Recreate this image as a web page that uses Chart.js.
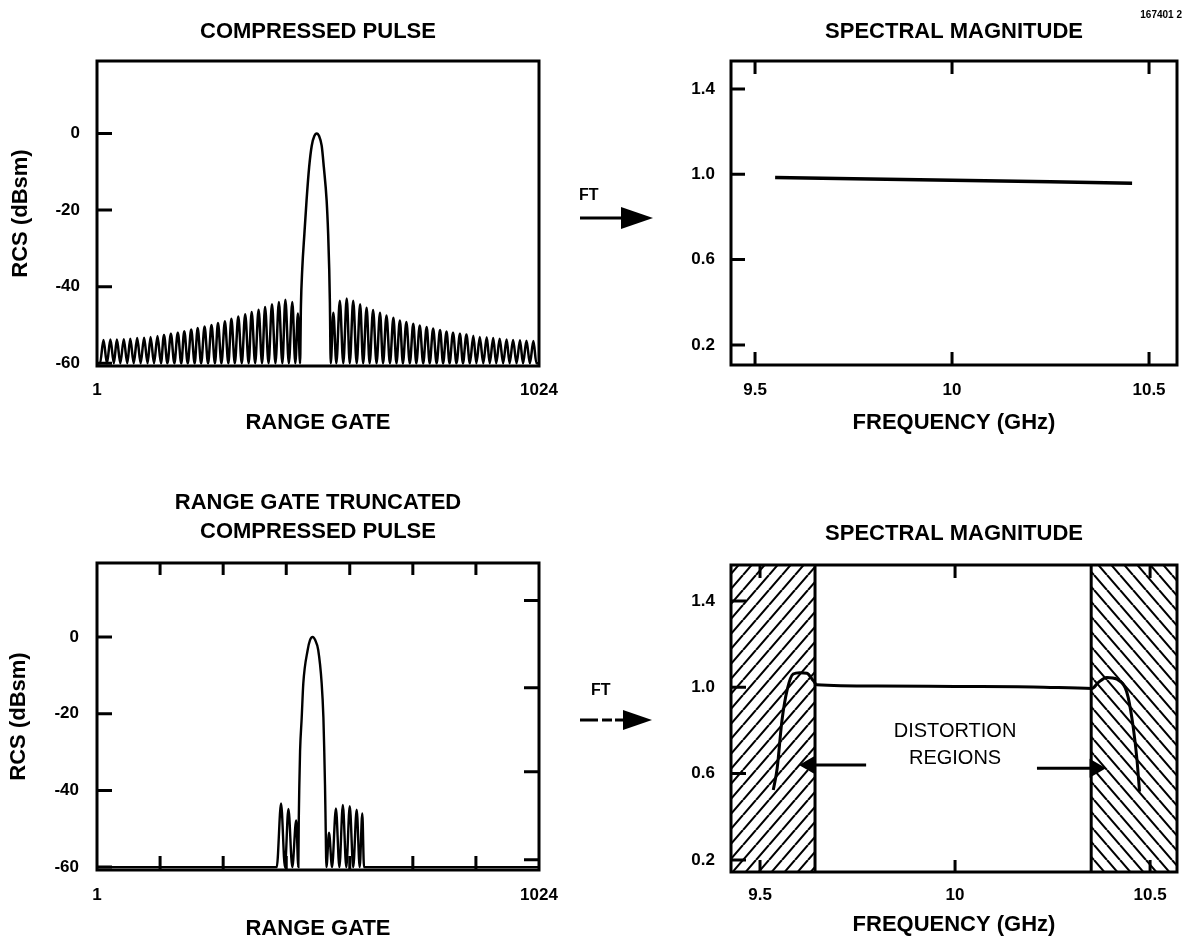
<!DOCTYPE html>
<html>
<head>
<meta charset="utf-8">
<script src="https://cdn.jsdelivr.net/npm/chart.js@4.4.1/dist/chart.umd.min.js"></script>
<style>
html,body{margin:0;padding:0;background:#fff;}
#page{position:relative;width:1185px;height:952px;overflow:hidden;background:#fff;font-family:"Liberation Sans",Arial,Helvetica,sans-serif;}
canvas{position:absolute;}
.lbl{position:absolute;font-weight:bold;color:#000;white-space:nowrap;line-height:1;}
svg{position:absolute;left:0;top:0;}
</style>
</head>
<body>
<div id="page">
<canvas id="tl" width="560" height="440" style="left:0px;top:0px"></canvas>
<canvas id="bl" width="560" height="512" style="left:0px;top:440px"></canvas>
<canvas id="tr" width="585" height="440" style="left:600px;top:0px"></canvas>
<canvas id="br" width="585" height="512" style="left:600px;top:440px"></canvas>
<svg width="1185" height="952">
  <line x1="580" y1="218" x2="628" y2="218" stroke="#000" stroke-width="3"/>
  <polygon points="621,207 653,218 621,229" fill="#000"/>
  <line x1="580" y1="720" x2="598" y2="720" stroke="#000" stroke-width="3"/>
  <line x1="602" y1="720" x2="612" y2="720" stroke="#000" stroke-width="3"/>
  <line x1="615" y1="720" x2="628" y2="720" stroke="#000" stroke-width="3"/>
  <polygon points="623,710 652,720 623,730" fill="#000"/>
</svg>
<div class="lbl" style="left:579px;top:187px;font-size:16px">FT</div>
<div class="lbl" style="left:591px;top:682px;font-size:16px">FT</div>
<div class="lbl" style="right:3px;top:10px;font-size:10px">167401 2</div>
</div>
<script>
// ===================== DATA =====================
// range-gate axis
const gateTicks = [1, 1024];
const gateTickLabels = ['1', '1024'];
const rcsTicks = [0, -20, -40, -60];
const rcsTickLabels = ['0', '-20', '-40', '-60'];
const floorRCS = -60;

// frequency axis
const freqTicks = [9.5, 10, 10.5];
const freqTickLabels = ['9.5', '10', '10.5'];
const magTicks = [1.4, 1.0, 0.6, 0.2];
const magTickLabels = ['1.4', '1.0', '0.6', '0.2'];

// extra frame ticks of the truncated panel
const truncFrameTicksX = [147, 293, 439, 586, 732, 878];
const truncFrameTicksRight = [9.5, -13.2, -35.1, -58.1];

// --- compressed pulse (top left) ---
const leftNullGates = [8, 24, 40, 55, 71, 86, 102, 118, 133, 149, 164, 180, 196, 211, 227, 242, 258, 274, 289, 305, 320, 336, 352, 367, 383, 398, 414, 430, 445, 460];
const leftPeakGates = [16, 32, 47, 63, 78, 94, 110, 125, 141, 156, 172, 188, 203, 219, 234, 250, 266, 281, 297, 312, 328, 344, 359, 375, 390, 406, 422, 437, 453, 466];
const leftPeakRCS = [-53.9, -53.8, -53.8, -53.7, -53.6, -53.4, -53.3, -53.1, -52.9, -52.6, -52.3, -52.0, -51.6, -51.2, -50.8, -50.4, -50.0, -49.5, -49.0, -48.4, -47.8, -47.2, -46.6, -46.0, -45.3, -44.6, -44.0, -43.4, -44.0, -47.0];
const mainGates = [471, 473, 476, 481, 486, 492, 498, 504, 509.5, 515, 521, 526, 532.5, 536, 538.5, 540, 542];
const mainRCS = [-60, -45, -35.5, -26.2, -17.5, -8.8, -3.2, -0.7, 0, -0.7, -3.2, -8.8, -17.5, -26.2, -35.5, -44, -60];
const rightPeakGates = [548, 563, 579, 594, 610, 625, 640, 656, 671, 687, 702, 717, 733, 748, 764, 779, 795, 810, 825, 841, 856, 872, 887, 903, 918, 933, 949, 964, 980, 995, 1011];
const rightPeakRCS = [-46.8, -43.7, -43.1, -43.7, -44.6, -45.5, -46.1, -46.8, -47.5, -48.1, -48.8, -49.2, -49.7, -50.1, -50.5, -50.9, -51.3, -51.7, -52.0, -52.3, -52.5, -52.8, -53.1, -53.2, -53.4, -53.6, -53.8, -53.9, -54.0, -54.1, -54.2];
const rightNullGates = [555, 571, 586, 602, 617, 632, 648, 663, 679, 694, 709, 725, 740, 756, 771, 787, 802, 817, 833, 848, 864, 879, 895, 910, 925, 941, 956, 972, 987, 1003, 1018];

// --- range gate truncated pulse (bottom left) ---
const truncLeftNullGates = [417, 436, 453];
const truncLeftPeakGates = [427, 444, 462];
const truncLeftPeakRCS = [-43.4, -44.8, -47.8];
const truncMainGates = [467, 468, 469.3, 471, 474.8, 478.5, 488.6, 494, 500, 506, 513, 521, 525, 527, 528.7, 530, 532];
const truncMainRCS = [-60, -47.5, -38.6, -29.8, -21, -12.1, -3.4, -0.8, 0, -0.8, -3.4, -12.1, -21, -29.8, -38.6, -47.5, -60];
const truncRightPeakGates = [538, 554, 570, 586, 602, 615];
const truncRightPeakRCS = [-51, -44.7, -43.8, -44.1, -45.0, -46.0];
const truncRightNullGates = [545, 562, 578, 594, 609, 619];

// --- spectral magnitude, full pulse (top right) ---
const specFreq = [9.551, 9.75, 10.0, 10.25, 10.457];
const specMag = [0.985, 0.979, 0.972, 0.965, 0.958];

// --- spectral magnitude, truncated pulse (bottom right) ---
const distFreq = [9.534, 9.544, 9.556, 9.570, 9.585, 9.602, 9.620, 9.637, 9.645, 9.8, 10.0, 10.2, 10.351, 10.367, 10.389, 10.415, 10.436, 10.444, 10.457, 10.466, 10.473];
const distMag = [0.524, 0.625, 0.843, 0.992, 1.062, 1.068, 1.065, 1.030, 1.012, 1.006, 1.004, 1.002, 0.995, 1.022, 1.046, 1.038, 0.999, 0.952, 0.812, 0.672, 0.516];
const hatchLeftFreq = [9.4256, 9.641];
const hatchRightFreq = [10.349, 10.569];
const arrowTailFreq = [9.772, 10.21];
const arrowTipFreq = [9.628, 10.359];
const arrowMag = [0.64, 0.625];
const noteLines = ['DISTORTION', 'REGIONS'];
const noteFreq = [10.0, 10.0];
const noteMag = [0.794, 0.672];

// ===================== BUILD SERIES =====================
const pulsePoints = [{x: gateTicks[0], y: floorRCS}];
leftPeakGates.forEach((g, i) => {
  pulsePoints.push({x: leftNullGates[i], y: floorRCS});
  pulsePoints.push({x: g, y: leftPeakRCS[i]});
});
mainGates.forEach((g, i) => pulsePoints.push({x: g, y: mainRCS[i]}));
rightPeakGates.forEach((g, i) => {
  pulsePoints.push({x: g, y: rightPeakRCS[i]});
  pulsePoints.push({x: rightNullGates[i], y: floorRCS});
});
pulsePoints.push({x: gateTicks[1], y: floorRCS});

const truncPoints = [{x: gateTicks[0], y: floorRCS}];
truncLeftPeakGates.forEach((g, i) => {
  truncPoints.push({x: truncLeftNullGates[i], y: floorRCS});
  truncPoints.push({x: g, y: truncLeftPeakRCS[i]});
});
truncMainGates.forEach((g, i) => truncPoints.push({x: g, y: truncMainRCS[i]}));
truncRightPeakGates.forEach((g, i) => {
  truncPoints.push({x: g, y: truncRightPeakRCS[i]});
  truncPoints.push({x: truncRightNullGates[i], y: floorRCS});
});
truncPoints.push({x: gateTicks[1], y: floorRCS});

const specPoints = specFreq.map((f, i) => ({x: f, y: specMag[i]}));
const distPoints = distFreq.map((f, i) => ({x: f, y: distMag[i]}));

// ===================== STYLE / PLUGINS =====================
const FONT = '"Liberation Sans", Arial, Helvetica, sans-serif';
const BLACK = '#000';

const framePlugin = {
  id: 'frame',
  afterDatasetsDraw(chart, args, o) {
    const {ctx, chartArea: a, scales: {x, y}} = chart;
    ctx.save();
    ctx.strokeStyle = BLACK;
    ctx.lineCap = 'butt';
    ctx.lineWidth = 3;
    ctx.beginPath();
    (o.left || []).forEach(v => { const p = y.getPixelForValue(v); ctx.moveTo(a.left, p); ctx.lineTo(a.left + o.lenLeft, p); });
    (o.right || []).forEach(v => { const p = y.getPixelForValue(v); ctx.moveTo(a.right, p); ctx.lineTo(a.right - o.lenRight, p); });
    (o.top || []).forEach(v => { const p = x.getPixelForValue(v); ctx.moveTo(p, a.top); ctx.lineTo(p, a.top + o.lenTop); });
    (o.bottom || []).forEach(v => { const p = x.getPixelForValue(v); ctx.moveTo(p, a.bottom); ctx.lineTo(p, a.bottom - o.lenBottom); });
    ctx.stroke();
    ctx.lineWidth = 3;
    ctx.strokeRect(a.left, a.top, a.right - a.left, a.bottom - a.top);
    ctx.restore();
  }
};

const notesPlugin = {
  id: 'notes',
  afterDatasetsDraw(chart, args, o) {
    if (!o.text) return;
    const {ctx, scales: {x, y}} = chart;
    ctx.save();
    ctx.fillStyle = BLACK;
    ctx.font = '20px ' + FONT;
    ctx.textAlign = 'center';
    ctx.textBaseline = 'middle';
    o.text.forEach((t, i) => ctx.fillText(t, x.getPixelForValue(o.x[i]), y.getPixelForValue(o.y[i])));
    ctx.restore();
  }
};

function hatch(dir) {
  const w = 13, h = 15;
  const c = document.createElement('canvas');
  c.width = w; c.height = h;
  const g = c.getContext('2d');
  g.strokeStyle = BLACK;
  g.lineWidth = 2.1;
  g.beginPath();
  if (dir > 0) {
    g.moveTo(0, h); g.lineTo(w, 0);
    g.moveTo(-w, h); g.lineTo(0, 0);
    g.moveTo(w, h); g.lineTo(2 * w, 0);
  } else {
    g.moveTo(0, 0); g.lineTo(w, h);
    g.moveTo(-w, 0); g.lineTo(0, h);
    g.moveTo(w, 0); g.lineTo(2 * w, h);
  }
  g.stroke();
  return g.createPattern(c, 'repeat');
}

function opts(p) {
  const tickFont = {family: FONT, size: 17, weight: 'bold'};
  const titleFont = {family: FONT, size: 22, weight: 'bold'};
  return {
    responsive: false,
    animation: false,
    devicePixelRatio: 1,
    events: [],
    layout: {padding: {left: 0, right: p.padRight, top: 0, bottom: 0}, autoPadding: false},
    plugins: {
      legend: {display: false},
      tooltip: {enabled: false},
      title: {
        display: true, text: p.title, color: BLACK, fullSize: false,
        font: {family: FONT, size: 22, weight: 'bold', lineHeight: p.titleLH || 1.2},
        padding: {top: p.titleTop, bottom: p.titleBottom}
      },
      frame: p.frame,
      notes: p.notes || {}
    },
    scales: {
      x: {
        type: 'linear', min: p.xMin, max: p.xMax, bounds: 'data',
        afterFit: s => { s.height = p.xHeight; s.paddingLeft = 0; s.paddingRight = 0; },
        afterBuildTicks: s => { s.ticks = p.xTicks.map(v => ({value: v})); },
        ticks: {
          autoSkip: false, maxRotation: 0, minRotation: 0, padding: p.xTickPad,
          color: BLACK, font: tickFont, callback: (v, i) => p.xLabels[i]
        },
        grid: {display: false, drawTicks: false},
        border: {display: false},
        title: {display: true, text: p.xTitle, color: BLACK, font: titleFont, padding: {top: 0, bottom: p.xTitlePad}}
      },
      y: {
        type: 'linear', min: p.yMin, max: p.yMax, bounds: 'data',
        afterFit: s => { s.width = p.yWidth; s.paddingTop = 0; s.paddingBottom = 0; },
        afterBuildTicks: s => { s.ticks = p.yTicks.map(v => ({value: v})).sort((a, b) => a.value - b.value); },
        ticks: {
          autoSkip: false, padding: p.yTickPad, color: BLACK, font: tickFont,
          callback: (v) => p.yLabels[p.yTicks.indexOf(v)]
        },
        grid: {display: false, drawTicks: false},
        border: {display: false},
        title: {display: !!p.yTitle, text: p.yTitle || '', color: BLACK, font: titleFont, padding: {top: p.yTitlePad || 0, bottom: 0}}
      }
    }
  };
}

// ===================== CHARTS =====================
new Chart(document.getElementById('tl'), {
  type: 'line',
  data: {datasets: [{
    data: pulsePoints, borderColor: BLACK, borderWidth: 2.5, pointRadius: 0,
    cubicInterpolationMode: 'monotone', fill: false
  }]},
  options: opts({
    title: 'COMPRESSED PULSE', titleTop: 18.8, titleBottom: 15.8, padRight: 21,
    xMin: 1, xMax: 1024, xTicks: gateTicks, xLabels: gateTickLabels, xHeight: 74, xTickPad: 13.8,
    xTitle: 'RANGE GATE', xTitlePad: 3.8,
    yMin: -60.7, yMax: 18.9, yTicks: rcsTicks, yLabels: rcsTickLabels, yWidth: 97, yTickPad: 17,
    yTitle: 'RCS (dBsm)', yTitlePad: 7.8,
    frame: {left: rcsTicks, lenLeft: 15}
  }),
  plugins: [framePlugin, notesPlugin]
});

new Chart(document.getElementById('bl'), {
  type: 'line',
  data: {datasets: [{
    data: truncPoints, borderColor: BLACK, borderWidth: 2.4, pointRadius: 0,
    cubicInterpolationMode: 'monotone', fill: false
  }]},
  options: opts({
    title: ['RANGE GATE TRUNCATED', 'COMPRESSED PULSE'], titleLH: 1.318, titleTop: 48.5, titleBottom: 16.5, padRight: 21,
    xMin: 1, xMax: 1024, xTicks: gateTicks, xLabels: gateTickLabels, xHeight: 82, xTickPad: 14.8,
    xTitle: 'RANGE GATE', xTitlePad: 10.3,
    yMin: -60.75, yMax: 19.3, yTicks: rcsTicks, yLabels: rcsTickLabels, yWidth: 97, yTickPad: 18,
    yTitle: 'RCS (dBsm)', yTitlePad: 5.3,
    frame: {left: rcsTicks, lenLeft: 15, right: truncFrameTicksRight, lenRight: 15,
            top: truncFrameTicksX, lenTop: 12, bottom: truncFrameTicksX, lenBottom: 14}
  }),
  plugins: [framePlugin, notesPlugin]
});

new Chart(document.getElementById('tr'), {
  type: 'line',
  data: {datasets: [{
    data: specPoints, borderColor: BLACK, borderWidth: 3.5, pointRadius: 0, fill: false
  }]},
  options: opts({
    title: 'SPECTRAL MAGNITUDE', titleTop: 18.8, titleBottom: 15.8, padRight: 8,
    xMin: 9.439, xMax: 10.571, xTicks: freqTicks, xLabels: freqTickLabels, xHeight: 75, xTickPad: 14.8,
    xTitle: 'FREQUENCY (GHz)', xTitlePad: 3.8,
    yMin: 0.106, yMax: 1.531, yTicks: magTicks, yLabels: magTickLabels, yWidth: 131, yTickPad: 16,
    frame: {left: magTicks, lenLeft: 14, top: freqTicks, lenTop: 13, bottom: freqTicks, lenBottom: 13}
  }),
  plugins: [framePlugin, notesPlugin]
});

const BR_MIN = 0.144, BR_MAX = 1.567;
new Chart(document.getElementById('br'), {
  type: 'line',
  data: {datasets: [
    {data: hatchLeftFreq.map(f => ({x: f, y: BR_MAX})), borderWidth: 0, pointRadius: 0, fill: 'start', backgroundColor: hatch(1)},
    {data: hatchRightFreq.map(f => ({x: f, y: BR_MAX})), borderWidth: 0, pointRadius: 0, fill: 'start', backgroundColor: hatch(-1)},
    {data: [{x: hatchLeftFreq[1], y: BR_MIN}, {x: hatchLeftFreq[1], y: BR_MAX}], borderColor: BLACK, borderWidth: 3, pointRadius: 0, fill: false},
    {data: [{x: hatchRightFreq[0], y: BR_MIN}, {x: hatchRightFreq[0], y: BR_MAX}], borderColor: BLACK, borderWidth: 3, pointRadius: 0, fill: false},
    {data: distPoints, borderColor: BLACK, borderWidth: 3, pointRadius: 0, cubicInterpolationMode: 'monotone', fill: false},
    {data: [{x: arrowTailFreq[0], y: arrowMag[0]}, {x: arrowTipFreq[0], y: arrowMag[0]}], borderColor: BLACK, borderWidth: 3,
     pointRadius: [0, 8], pointStyle: 'triangle', pointRotation: [0, -90], pointBackgroundColor: BLACK, pointBorderColor: BLACK, fill: false},
    {data: [{x: arrowTailFreq[1], y: arrowMag[1]}, {x: arrowTipFreq[1], y: arrowMag[1]}], borderColor: BLACK, borderWidth: 3,
     pointRadius: [0, 8], pointStyle: 'triangle', pointRotation: [0, 90], pointBackgroundColor: BLACK, pointBorderColor: BLACK, fill: false}
  ]},
  options: opts({
    title: 'SPECTRAL MAGNITUDE', titleTop: 80.8, titleBottom: 17.8, padRight: 8,
    xMin: hatchLeftFreq[0], xMax: hatchRightFreq[1], xTicks: freqTicks, xLabels: freqTickLabels, xHeight: 80, xTickPad: 12.8,
    xTitle: 'FREQUENCY (GHz)', xTitlePad: 13.8,
    yMin: BR_MIN, yMax: BR_MAX, yTicks: magTicks, yLabels: magTickLabels, yWidth: 131, yTickPad: 16,
    frame: {left: magTicks, lenLeft: 15, top: freqTicks, lenTop: 13, bottom: freqTicks, lenBottom: 12},
    notes: {text: noteLines, x: noteFreq, y: noteMag}
  }),
  plugins: [framePlugin, notesPlugin]
});
</script>
</body>
</html>
